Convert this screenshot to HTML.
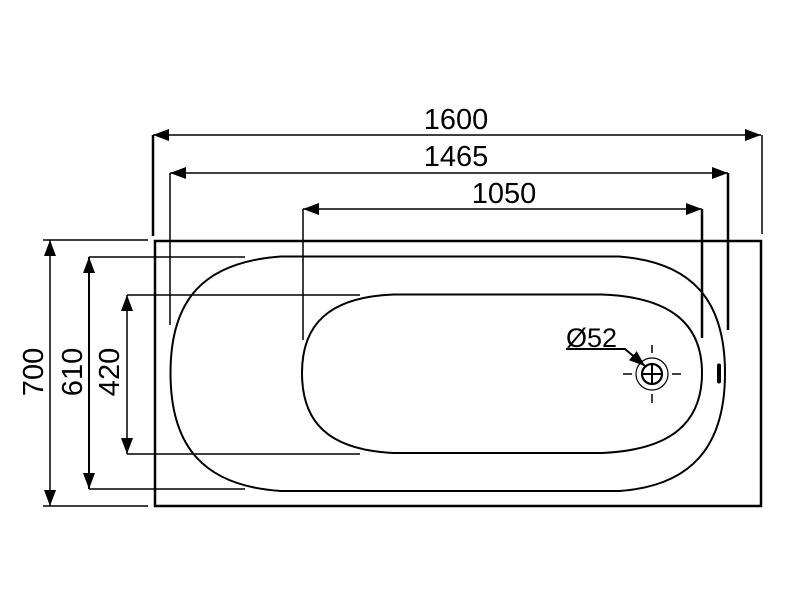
<!DOCTYPE html>
<html><head><style>html,body{margin:0;padding:0;background:#fff}svg{display:block}</style></head>
<body>
<svg width="800" height="601" viewBox="0 0 800 601" xmlns="http://www.w3.org/2000/svg" font-family="Liberation Sans, sans-serif">
<defs>
<marker id="a" viewBox="0 0 16 12" refX="16" refY="6" markerWidth="16" markerHeight="12" markerUnits="userSpaceOnUse" orient="auto-start-reverse"><path d="M0 0L16 6L0 12Z" fill="#000"/></marker>
</defs>
<g stroke="#000" fill="none">
<rect x="155" y="241" width="606" height="265" stroke-width="2.5"/>
<path d="M281 256.5H619C692 262 725 300 725 373C725 446 692 486 619 491H281C203 486 170.5 446 170.5 373C170.5 300 203 262 281 256.5Z" stroke-width="2"/>
<path d="M394 294.5H602C672 297 702 325 702 373C702 422 672 450 602 453H394C328 450 302 422 302 373C302 325 328 297 394 294.5Z" stroke-width="2"/>
<line x1="153" y1="135" x2="761" y2="135" stroke-width="1.5" marker-start="url(#a)" marker-end="url(#a)"/>
<line x1="153" y1="135" x2="153" y2="236" stroke-width="2.5"/>
<line x1="762" y1="135" x2="762" y2="234" stroke-width="1.5"/>
<line x1="170" y1="173" x2="728" y2="173" stroke-width="1.5" marker-start="url(#a)" marker-end="url(#a)"/>
<line x1="170" y1="173" x2="170" y2="325" stroke-width="1.5"/>
<line x1="728" y1="173" x2="728" y2="330" stroke-width="2.5"/>
<line x1="303" y1="209" x2="702" y2="209" stroke-width="1.5" marker-start="url(#a)" marker-end="url(#a)"/>
<line x1="303" y1="209" x2="303" y2="340" stroke-width="1.5"/>
<line x1="702" y1="209" x2="702" y2="338" stroke-width="2.5"/>
<line x1="50" y1="240" x2="50" y2="506" stroke-width="1.5" marker-start="url(#a)" marker-end="url(#a)"/>
<line x1="43" y1="240" x2="148" y2="240" stroke-width="1.5"/>
<line x1="43" y1="506" x2="148" y2="506" stroke-width="1.5"/>
<line x1="89" y1="257" x2="89" y2="489" stroke-width="2" marker-start="url(#a)" marker-end="url(#a)"/>
<line x1="89" y1="257" x2="245" y2="257" stroke-width="1.5"/>
<line x1="89" y1="489" x2="245" y2="489" stroke-width="1.5"/>
<line x1="127" y1="295" x2="127" y2="454" stroke-width="1.5" marker-start="url(#a)" marker-end="url(#a)"/>
<line x1="127" y1="295" x2="360" y2="295" stroke-width="1.5"/>
<line x1="127" y1="454" x2="360" y2="454" stroke-width="1.5"/>
<circle cx="652" cy="374" r="16" stroke-width="1.2"/>
<circle cx="652" cy="374" r="10" stroke-width="2.2"/>
<line x1="642" y1="374" x2="662" y2="374" stroke-width="2"/>
<line x1="652" y1="364" x2="652" y2="384" stroke-width="2"/>
<line x1="623" y1="374" x2="632" y2="374" stroke-width="1.5"/>
<line x1="672" y1="374" x2="681" y2="374" stroke-width="1.5"/>
<line x1="652" y1="345" x2="652" y2="353" stroke-width="1.5"/>
<line x1="652" y1="394" x2="652" y2="403" stroke-width="1.5"/>
<polyline points="566,349 625,349 645,366" stroke-width="2" marker-end="url(#a)"/>
<rect x="717.5" y="364" width="3" height="19" rx="1.5" fill="#000" stroke-width="1"/>
</g>
<g font-size="29" fill="#000">
<text x="456" y="129" text-anchor="middle">1600</text>
<text x="456" y="166" text-anchor="middle">1465</text>
<text x="504" y="203" text-anchor="middle">1050</text>
<text transform="translate(43,372) rotate(-90)" text-anchor="middle">700</text>
<text transform="translate(82,372) rotate(-90)" text-anchor="middle">610</text>
<text transform="translate(119,372) rotate(-90)" text-anchor="middle">420</text>
<text x="566" y="347" font-size="27">Ø52</text>
</g>
</svg>
</body></html>
